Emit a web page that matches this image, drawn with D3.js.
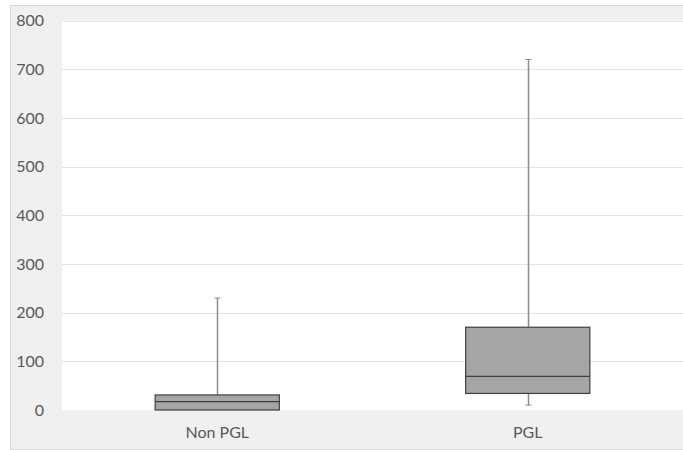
<!DOCTYPE html>
<html>
<head>
<meta charset="utf-8">
<script src="https://cdn.jsdelivr.net/npm/d3@7"></script>
<style>
  body { margin: 0; background: #fff; }
  text { font-family: Lato, "Open Sans", sans-serif; }
</style>
</head>
<body>
<div id="main"></div>
<script>
// values
var categories = ["Non PGL", "PGL"];
var mins = [0, 10];
var q1s = [0, 34];
var medians = [17, 69];
var q3s = [31, 170];
var maxs = [230, 720];
var yTicks = [0, 100, 200, 300, 400, 500, 600, 700, 800];

var ctx = {
    w: 683,
    h: 450,
    frame: { left: 10, top: 5, right: 683, bottom: 449 },
    plot: { left: 62, top: 20.5, right: 683, bottom: 410 },
};

var svg = d3.select("#main").append("svg")
    .attr("width", ctx.w)
    .attr("height", ctx.h);

// gray outer chart area
svg.append("rect")
    .attr("x", ctx.frame.left + 0.5)
    .attr("y", ctx.frame.top + 0.5)
    .attr("width", ctx.frame.right - ctx.frame.left)
    .attr("height", ctx.frame.bottom - ctx.frame.top)
    .attr("fill", "#f0f0f0")
    .attr("stroke", "#d9d9d9");

// white plot area
svg.append("rect")
    .attr("x", ctx.plot.left)
    .attr("y", ctx.plot.top)
    .attr("width", ctx.plot.right - ctx.plot.left)
    .attr("height", ctx.plot.bottom - ctx.plot.top)
    .attr("fill", "#ffffff");

var x = d3.scaleBand()
    .domain(categories)
    .range([ctx.plot.left, ctx.plot.right])
    .paddingInner(0)
    .paddingOuter(0);

var y = d3.scaleLinear()
    .domain([0, 800])
    .range([ctx.plot.bottom, ctx.plot.top]);

// gridlines
svg.append("g").selectAll("line")
    .data(yTicks.filter(function (d) { return d > 0; }))
    .enter().append("line")
    .attr("x1", ctx.plot.left)
    .attr("x2", ctx.plot.right)
    .attr("y1", function (d) { return Math.round(y(d)) + 0.5; })
    .attr("y2", function (d) { return Math.round(y(d)) + 0.5; })
    .attr("stroke", "#e3e3e3")
    .attr("stroke-width", 1);

// y axis labels
var yAxis = svg.append("g")
    .attr("transform", "translate(" + (ctx.plot.left - 8) + ",0)")
    .call(d3.axisLeft(y).tickValues(yTicks).tickSize(0).tickPadding(10));
yAxis.select(".domain").remove();
yAxis.selectAll("text")
    .attr("font-size", 16)
    .attr("font-family", "Lato, sans-serif")
    .attr("fill", "#595959");

// x axis labels
var xAxis = svg.append("g")
    .attr("transform", "translate(0," + ctx.plot.bottom + ")")
    .call(d3.axisBottom(x).tickSize(0).tickPadding(17));
xAxis.select(".domain").remove();
xAxis.selectAll("text")
    .attr("font-size", 16)
    .attr("font-family", "Lato, sans-serif")
    .attr("fill", "#595959");

var boxW = x.bandwidth() * 0.4;
var data = categories.map(function (c, i) {
    return { cat: c, min: mins[i], q1: q1s[i], med: medians[i], q3: q3s[i], max: maxs[i] };
});

var g = svg.append("g").selectAll("g")
    .data(data)
    .enter().append("g");

function cx(d) { return Math.round(x(d.cat) + x.bandwidth() / 2) + 0.5; }

// whiskers
g.append("line")
    .attr("x1", cx).attr("x2", cx)
    .attr("y1", function (d) { return y(d.max); })
    .attr("y2", function (d) { return y(d.q3); })
    .attr("stroke", "#8c8c8c").attr("stroke-width", 1.5);
g.append("line")
    .attr("x1", cx).attr("x2", cx)
    .attr("y1", function (d) { return y(d.q1); })
    .attr("y2", function (d) { return y(d.min); })
    .attr("stroke", "#8c8c8c").attr("stroke-width", 1.5);

// caps
g.append("line")
    .attr("x1", function (d) { return cx(d) - 3; })
    .attr("x2", function (d) { return cx(d) + 3; })
    .attr("y1", function (d) { return y(d.max); })
    .attr("y2", function (d) { return y(d.max); })
    .attr("stroke", "#8c8c8c").attr("stroke-width", 1);
g.filter(function (d) { return d.min < d.q1; }).append("line")
    .attr("x1", function (d) { return cx(d) - 3; })
    .attr("x2", function (d) { return cx(d) + 3; })
    .attr("y1", function (d) { return y(d.min); })
    .attr("y2", function (d) { return y(d.min); })
    .attr("stroke", "#8c8c8c").attr("stroke-width", 1);

// boxes
g.append("rect")
    .attr("x", function (d) { return x(d.cat) + (x.bandwidth() - boxW) / 2; })
    .attr("y", function (d) { return y(d.q3); })
    .attr("width", boxW)
    .attr("height", function (d) { return y(d.q1) - y(d.q3); })
    .attr("fill", "#a5a5a5")
    .attr("stroke", "#404040")
    .attr("stroke-width", 1.2);

// medians
g.append("line")
    .attr("x1", function (d) { return x(d.cat) + (x.bandwidth() - boxW) / 2; })
    .attr("x2", function (d) { return x(d.cat) + (x.bandwidth() + boxW) / 2; })
    .attr("y1", function (d) { return y(d.med); })
    .attr("y2", function (d) { return y(d.med); })
    .attr("stroke", "#404040")
    .attr("stroke-width", 1.2);
</script>
</body>
</html>
